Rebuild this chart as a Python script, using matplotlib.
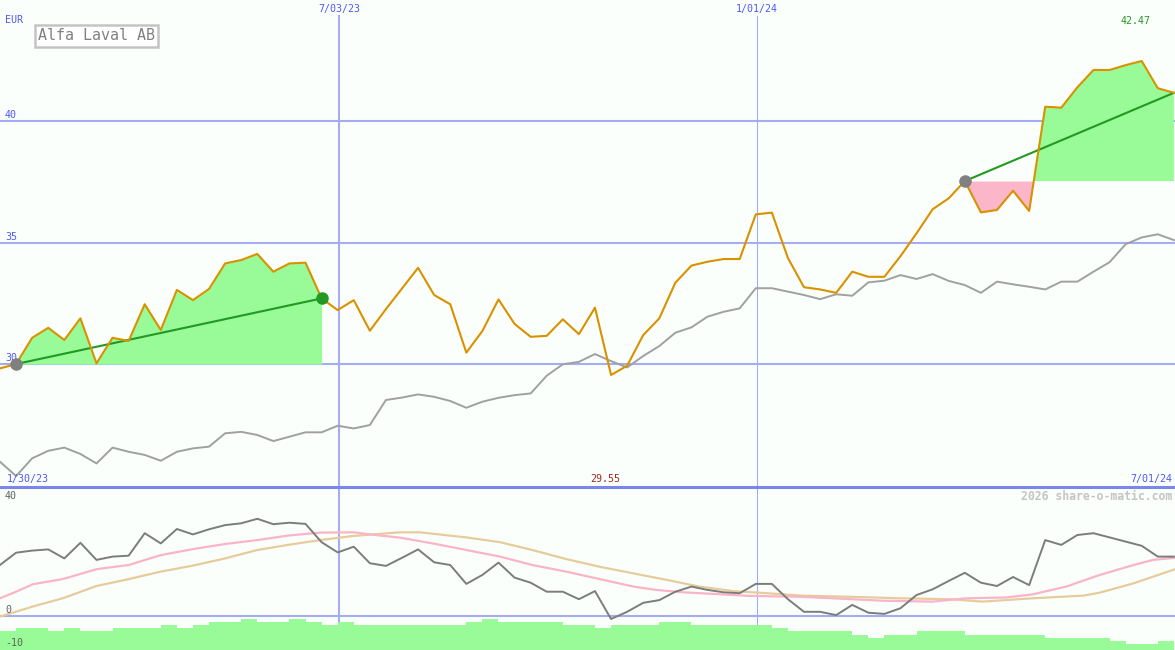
import numpy as np
import matplotlib
matplotlib.use("Agg")
import matplotlib.pyplot as plt
from matplotlib.lines import Line2D

# weekly index (0 = first visible week)
weeks = np.arange(74)

price = [29.82, 30.00, 31.08, 31.49, 30.99, 31.88, 30.03, 31.08, 30.95, 32.46,
         31.40, 33.05, 32.63, 33.09, 34.14, 34.28, 34.53, 33.80, 34.14, 34.17,
         32.70, 32.22, 32.63, 31.37, 32.26, 33.11, 33.96, 32.84, 32.46, 30.47,
         31.36, 32.66, 31.65, 31.12, 31.16, 31.84, 31.23, 32.32, 29.55, 29.93,
         31.19, 31.88, 33.35, 34.05, 34.21, 34.32, 34.32, 36.16, 36.23, 34.36,
         33.16, 33.07, 32.93, 33.80, 33.59, 33.59, 34.44, 35.38, 36.37, 36.82,
         37.53, 36.24, 36.34, 37.13, 36.30, 40.59, 40.55, 41.39, 42.10, 42.10,
         42.30, 42.47, 41.35, 41.16]

index_cmp = [25.98, 25.39, 26.12, 26.43, 26.56, 26.30, 25.91, 26.56, 26.39, 26.26,
             26.02, 26.39, 26.53, 26.60, 27.15, 27.21, 27.08, 26.83, 27.01, 27.19,
             27.19, 27.46, 27.35, 27.49, 28.52, 28.62, 28.75, 28.65, 28.48, 28.20,
             28.45, 28.61, 28.72, 28.79, 29.52, 29.99, 30.09, 30.41, 30.12, 29.86,
             30.33, 30.74, 31.29, 31.51, 31.95, 32.15, 32.29, 33.12, 33.12, 32.98,
             32.84, 32.67, 32.87, 32.81, 33.36, 33.43, 33.66, 33.50, 33.70, 33.42,
             33.25, 32.93, 33.39, 33.28, 33.18, 33.07, 33.39, 33.39, 33.80, 34.19,
             34.93, 35.21, 35.34, 35.10]

oscillator = [17.0, 21.1, 21.8, 22.2, 19.2, 24.4, 18.7, 19.8, 20.1, 27.6,
              24.2, 29.0, 27.2, 28.9, 30.3, 30.9, 32.4, 30.6, 31.1, 30.7,
              24.6, 21.2, 23.1, 17.6, 16.7, 19.4, 22.2, 17.9, 17.0, 10.7,
              13.7, 17.8, 12.8, 11.1, 8.1, 8.1, 5.6, 8.3, -1.0, 1.4,
              4.4, 5.3, 8.1, 9.8, 8.7, 7.9, 7.6, 10.7, 10.7, 5.6,
              1.4, 1.4, 0.3, 3.7, 1.1, 0.7, 2.6, 7.0, 8.9, 11.7,
              14.4, 11.1, 10.0, 13.0, 10.3, 25.3, 23.7, 27.0, 27.6, 26.2,
              24.8, 23.4, 19.8, 19.8]

pink_x = [0, 1, 2.05, 3.9, 6, 8, 10, 12, 14, 16, 17.9, 19.9, 22, 23, 24.9, 26.9,
          29, 31.1, 33.1, 35.2, 37.3, 39.4, 40.8, 42.5, 44.6, 46.6, 49.8, 51.8,
          54.9, 58, 60.1, 62.6, 64.2, 66.3, 68.4, 70.5, 71.7, 73.07]
pink_y = [5.9, 8.1, 10.6, 12.3, 15.6, 17.0, 20.3, 22.3, 24.0, 25.3, 26.8, 27.8,
          27.9, 27.2, 26.1, 24.2, 22.0, 19.8, 17.0, 14.8, 12.3, 9.8, 8.7, 7.9,
          7.3, 6.7, 6.4, 5.9, 5.1, 4.8, 5.9, 6.2, 7.2, 9.8, 13.7, 17.0, 18.7, 19.4]

tan_x = [0, 2, 3.9, 6, 8, 10, 12, 14, 16, 17.9, 19.9, 22, 24.9, 26.1, 29, 31.1,
         33.1, 35.2, 37.3, 39.4, 41.5, 43.5, 45.6, 47.7, 49.8, 52.9, 56, 59.1,
         61.1, 64.2, 67.4, 68.4, 70.5, 73.07]
tan_y = [-0.2, 3.1, 5.9, 10.0, 12.3, 14.8, 16.8, 19.2, 22.0, 23.7, 25.3, 26.7,
         27.9, 27.9, 26.2, 24.6, 22.0, 19.0, 16.4, 14.2, 12.0, 9.8, 8.3, 7.6,
         6.8, 6.4, 5.9, 5.6, 4.8, 5.9, 6.8, 7.8, 10.9, 15.6]

volume_bars = [-5, -4, -4, -5, -4, -5, -5, -4, -4, -4, -3, -4, -3, -2, -2, -1,
               -2, -2, -1, -2, -3, -2, -3, -3, -3, -3, -3, -3, -3, -2, -1, -2,
               -2, -2, -2, -3, -3, -4, -3, -3, -3, -2, -2, -3, -3, -3, -3, -3,
               -4, -5, -5, -5, -5, -6.3, -7.3, -6.3, -6.3, -5, -5, -5, -6.3,
               -6.3, -6.3, -6.3, -6.3, -7.3, -7.3, -7.3, -7.3, -8.3, -9.3,
               -9.3, -8.3]

trend_segments = [(1, 20), (60, 73)]
price_levels = [30, 35, 40]
date_marks = [21.08, 47.08]
date_labels = ["7/03/23", "1/01/24"]

BG = "#fbfffb"
GRID = "#a4acf2"
BLUE_TXT = "#5058f0"
MONO = "DejaVu Sans Mono"

W, H = 1175, 650
SPLIT = 487
XMAX = 73.07


def draw_price_panel(ax):
    ax.set_facecolor(BG)
    ax.set_xlim(0, XMAX)
    ax.set_ylim(24.94, 44.98)

    for lvl in price_levels:
        ax.axhline(lvl, color=GRID, lw=1.5, zorder=1)
    ax.axvline(date_marks[0], ymax=1 - 16 / SPLIT, color=GRID, lw=1.5, zorder=1)
    ax.axvline(date_marks[1], ymax=1 - 16 / SPLIT, color=GRID, lw=0.8, zorder=1)

    p = np.array(price)
    for a, b in trend_segments:
        xs = weeks[a:b + 1]
        ys = p[a:b + 1]
        base = p[a]
        ax.fill_between(xs, ys, base, where=ys >= base, interpolate=True,
                        color="#98fb98", lw=0, zorder=2)
        ax.fill_between(xs, ys, base, where=ys <= base, interpolate=True,
                        color="#fbb6c9", lw=0, zorder=2)
        ax.plot([weeks[a], weeks[b]], [p[a], p[b]], color="#229922",
                lw=1.5, zorder=4)
        ax.plot(weeks[a], p[a], "o", color="#808080", ms=8, zorder=6)
    ax.plot(weeks[20], p[20], "o", color="#229922", ms=8, zorder=6)

    ax.plot(weeks, index_cmp, color="#a0a0a0", lw=1.4, zorder=3)
    ax.plot(weeks, price, color="#d99100", lw=1.5, zorder=5)

    for spine in ax.spines.values():
        spine.set_visible(False)
    ax.set_xticks([])
    ax.set_yticks([])

    def txt(px, py, s, **kw):
        ax.text(px / W, 1 - py / SPLIT, s, transform=ax.transAxes,
                family=MONO, va="center", **kw)

    txt(5, 20, "EUR", color=BLUE_TXT, fontsize=7.2, ha="left")
    txt(5, 115, "40", color=BLUE_TXT, fontsize=7.2, ha="left")
    txt(5, 237, "35", color=BLUE_TXT, fontsize=7.2, ha="left")
    txt(5, 358, "30", color=BLUE_TXT, fontsize=7.2, ha="left")
    txt(339, 9, date_labels[0], color=BLUE_TXT, fontsize=7.2, ha="center")
    txt(757, 9, date_labels[1], color=BLUE_TXT, fontsize=7.2, ha="center")
    txt(1136, 21, "%.2f" % max(price), color="#229922", fontsize=7.2, ha="center")
    txt(605, 479, "%.2f" % min(price), color="#a02828", fontsize=7.2, ha="center")
    txt(7, 479, "1/30/23", color=BLUE_TXT, fontsize=7.2, ha="left")
    txt(1172, 479, "7/01/24", color=BLUE_TXT, fontsize=7.2, ha="right")
    txt(38, 36, "Alfa Laval AB", color="#808080", fontsize=10.8, ha="left",
        bbox=dict(boxstyle="square,pad=0.22", fc="white", ec="#c4c4c4", lw=1.8))


def draw_indicator_panel(ax):
    ax.set_facecolor(BG)
    ax.set_xlim(0, XMAX)
    ybot = -11.33
    ax.set_ylim(ybot, 43)

    ax.axhline(0, color=GRID, lw=1.5, zorder=1)
    ax.axvline(date_marks[0], color=GRID, lw=1.5, zorder=1)
    ax.axvline(date_marks[1], color=GRID, lw=0.8, zorder=1)

    vb = np.array(volume_bars)
    ax.bar(weeks[:len(vb)], vb - ybot, bottom=ybot, width=1, align="edge",
           color="#98fb98", lw=0, zorder=2)

    ax.plot(tan_x, tan_y, color="#e6cc9c", lw=1.6, zorder=3)
    ax.plot(pink_x, pink_y, color="#fab4c8", lw=1.6, zorder=3)
    ax.plot(weeks, oscillator, color="#7c7c7c", lw=1.4, zorder=4)

    for spine in ax.spines.values():
        spine.set_visible(False)
    ax.set_xticks([])
    ax.set_yticks([])

    def txt(px, py, s, **kw):
        ax.text(px / W, 1 - (py - SPLIT) / (H - SPLIT), s,
                transform=ax.transAxes, family=MONO, va="center", **kw)

    txt(5, 496, "40", color="#606060", fontsize=7.2, ha="left")
    txt(5, 610, "0", color="#606060", fontsize=7.2, ha="left")
    txt(5, 643, "-10", color="#606060", fontsize=7.2, ha="left")
    txt(1172, 496, "2026 share-o-matic.com", color="#c4c4c4", fontsize=8.3,
        ha="right", fontweight="bold")


def main():
    fig = plt.figure(figsize=(W / 100, H / 100), dpi=100)
    fig.patch.set_facecolor(BG)
    ax_top = fig.add_axes([0, (H - SPLIT) / H, 1, SPLIT / H])
    ax_bot = fig.add_axes([0, 0, 1, (H - SPLIT) / H])
    draw_indicator_panel(ax_bot)
    draw_price_panel(ax_top)

    # separator between price and indicator panels
    sep_y = (H - SPLIT) / H
    fig.add_artist(Line2D([0, 1], [sep_y, sep_y], transform=fig.transFigure,
                          color="#7b86ec", lw=2.2, zorder=10))
    fig.savefig("out.png", dpi=100, facecolor=BG)


if __name__ == "__main__":
    main()
